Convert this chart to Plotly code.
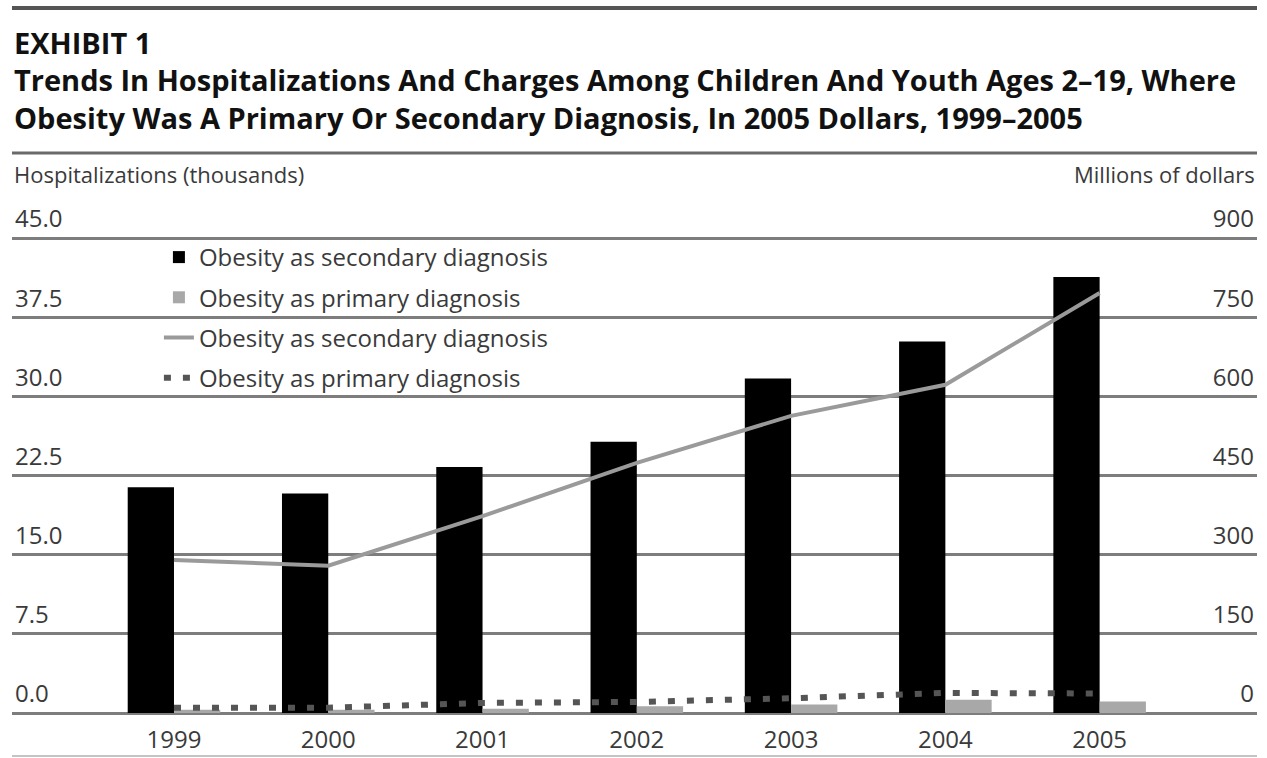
import plotly.graph_objects as go

years = ["1999", "2000", "2001", "2002", "2003", "2004", "2005"]
hosp_secondary = [21.4, 20.8, 23.3, 25.7, 31.7, 35.2, 41.3]
hosp_primary = [0.3, 0.3, 0.4, 0.65, 0.8, 1.25, 1.1]
charges_secondary = [290, 279, 373, 474, 563, 622, 796]
charges_primary = [10, 10, 19, 21, 28, 38, 37]

left_ticks = [0, 7.5, 15, 22.5, 30, 37.5, 45]
right_ticks = [0, 150, 300, 450, 600, 750, 900]

xpos = list(range(len(years)))
TXT = "#3a3a3a"
FONT = "Open Sans, Arial, sans-serif"
GRID = "#7d7d7d"

fig = go.Figure()
fig.add_trace(go.Bar(x=xpos, y=hosp_secondary, name="Obesity as secondary diagnosis",
                     marker=dict(color="#000000", line=dict(width=0)), legendgroup="a", yaxis="y"))
fig.add_trace(go.Bar(x=xpos, y=hosp_primary, name="Obesity as primary diagnosis",
                     marker=dict(color="#a8a8a8", line=dict(width=0)), legendgroup="b", yaxis="y"))
fig.add_trace(go.Scatter(x=xpos, y=charges_secondary, name="Obesity as secondary diagnosis",
                         mode="lines", line=dict(color="#9a9a9a", width=4), legendgroup="c", yaxis="y2"))
fig.add_trace(go.Scatter(x=xpos, y=charges_primary, name="Obesity as primary diagnosis",
                         mode="lines", line=dict(color="#555555", width=6, dash="7px,12px"),
                         legendgroup="d", yaxis="y2"))

W, H = 1267, 758
bottom = 713
PPU = 475 / 45.0
YMAX = 48.7
top = round(bottom - YMAX * PPU)
ph = bottom - top

def py(pix):
    return (bottom - pix) / ph

fig.update_layout(
    width=W, height=H,
    margin=dict(l=12, r=10, t=top, b=H - bottom, autoexpand=False),
    paper_bgcolor="white", plot_bgcolor="white",
    barmode="group", bargap=0.4, bargroupgap=0,
    font=dict(family=FONT, color=TXT, size=22),
    showlegend=True,
    legend=dict(x=0.118, y=py(235), xanchor="left", yanchor="top",
                font=dict(family=FONT, size=24, color=TXT),
                bgcolor="rgba(0,0,0,0)", tracegroupgap=6, traceorder="grouped"),
    xaxis=dict(range=[-1.05, 7.02], tickmode="array", tickvals=xpos, ticktext=years,
               showgrid=False, zeroline=False, showline=False, ticks="", automargin=False,
               tickfont=dict(size=24, color=TXT), ticklabelstandoff=10),
    yaxis=dict(range=[0, YMAX], tickmode="array", tickvals=left_ticks,
               ticktext=[f"{v:.1f}" for v in left_ticks], automargin=False,
               showgrid=True, gridcolor=GRID, gridwidth=2.5, zeroline=True,
               zerolinecolor=GRID, zerolinewidth=2.5, showline=False, ticks="",
               ticklabelposition="inside", ticklabelshift=-19,
               tickfont=dict(size=24, color=TXT)),
    yaxis2=dict(range=[0, YMAX * 20], overlaying="y", side="right", tickmode="array",
                tickvals=right_ticks, ticktext=[str(v) for v in right_ticks], automargin=False,
                showgrid=False, zeroline=False, showline=False, ticks="",
                ticklabelposition="inside", ticklabelshift=-19,
                tickfont=dict(size=24, color=TXT)),
)

shapes = [
    dict(type="line", xref="paper", yref="paper", x0=0, x1=1, y0=py(8), y1=py(8),
         line=dict(color="#555555", width=4)),
    dict(type="line", xref="paper", yref="paper", x0=0, x1=1, y0=py(153), y1=py(153),
         line=dict(color="#6a6a6a", width=3)),
    dict(type="line", xref="paper", yref="paper", x0=0, x1=1, y0=py(756), y1=py(756),
         line=dict(color="#b0b0b0", width=1.5)),
]
fig.update_layout(shapes=shapes)

ann = [
    dict(text="<b>EXHIBIT 1</b>", x=0, y=py(42), size=29),
    dict(text="<b>Trends In Hospitalizations And Charges Among Children And Youth Ages 2–19, Where</b>",
         x=0, y=py(80), size=29),
    dict(text="<b>Obesity Was A Primary Or Secondary Diagnosis, In 2005 Dollars, 1999–2005</b>",
         x=0, y=py(118), size=29),
]
annotations = []
for a in ann:
    annotations.append(dict(text=a["text"], xref="paper", yref="paper", x=a["x"], y=a["y"],
                            xanchor="left", yanchor="middle", showarrow=False,
                            font=dict(family=FONT, size=a["size"], color="#111111")))
annotations.append(dict(text="Hospitalizations (thousands)", xref="paper", yref="paper",
                        x=0, y=py(174), xanchor="left", yanchor="middle", showarrow=False,
                        font=dict(family=FONT, size=22, color=TXT)))
annotations.append(dict(text="Millions of dollars", xref="paper", yref="paper",
                        x=1, y=py(174), xanchor="right", yanchor="middle", showarrow=False,
                        font=dict(family=FONT, size=22, color=TXT)))
fig.update_layout(annotations=annotations)

fig.write_html("out.html")
